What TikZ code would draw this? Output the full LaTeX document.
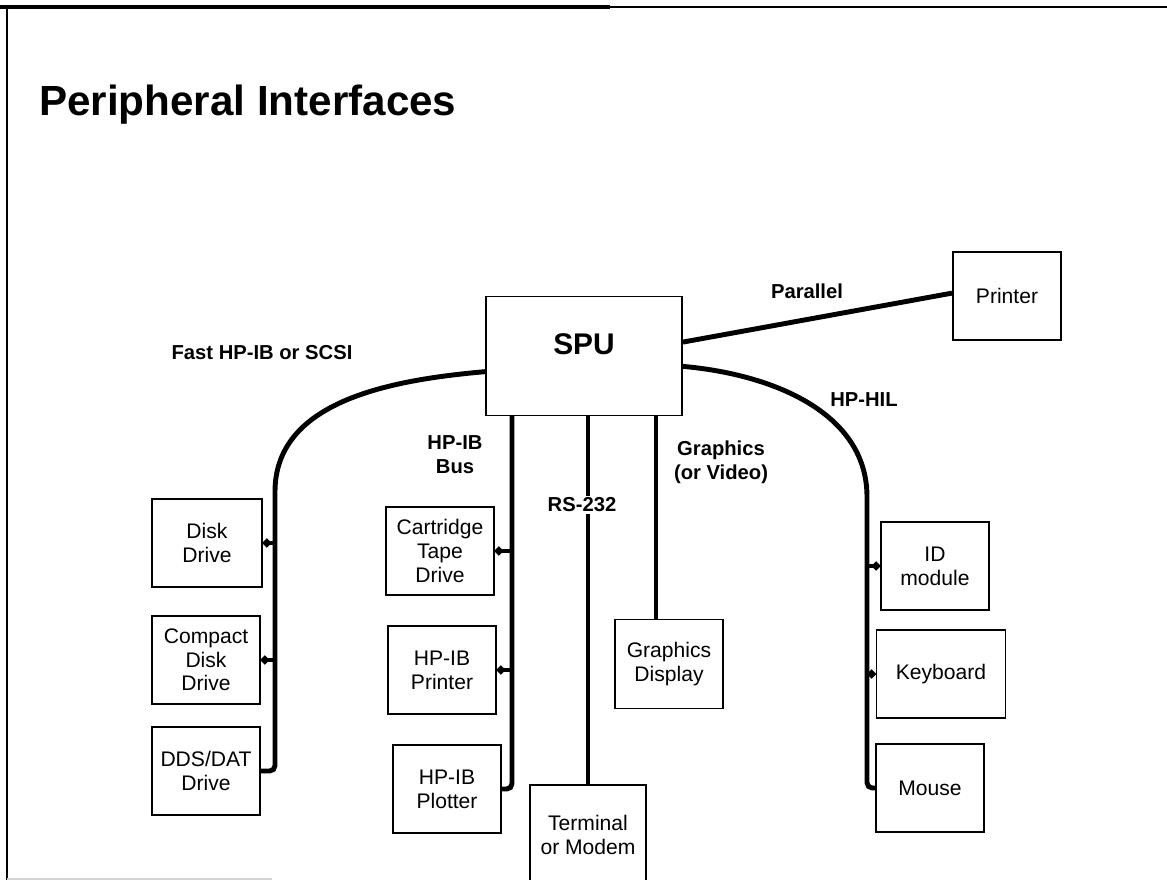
\documentclass[tikz,border=0pt]{standalone}
\usepackage{fontspec}
\setmainfont{Liberation Sans}
\usetikzlibrary{arrows.meta}

\begin{document}
\begin{tikzpicture}[x=0.2mm, y=-0.2mm,
  unit/.style={draw, line width=1.1pt, align=center, inner sep=0pt,
    minimum width=21.6mm, minimum height=17.6mm,
    font=\fontsize{12}{13.5}\selectfont},
  bus/.style={line width=2.8pt, rounded corners=3pt},
  stub/.style={line width=2.6pt, {Circle[length=4.5pt]}-},
  tag/.style={font=\bfseries\fontsize{11.5}{13.5}\selectfont, align=center, inner sep=1pt}]
  \useasboundingbox (0,0) rectangle (1167,880);
  % frame
  \draw[line width=2pt] (0,7) -- (610,7);
  \draw[line width=1.2pt] (610,7) -- (1167,7);
  \draw[line width=1.6pt] (7,7) -- (7,880);
  \draw[gray!35, line width=0.8pt] (7,879) -- (272,879);
  \node[anchor=base west, font=\bfseries\fontsize{24}{24}\selectfont] (title) at (33,115) {Peripheral Interfaces};

  % units
  \node[unit, minimum width=39.2mm, minimum height=23.8mm,
    label={[font=\bfseries\fontsize{17}{17}\selectfont, yshift=2.4mm]center:SPU}] (spu) at (584,356) {};
  \node[unit] (printer) at (1007,296) {Printer};
  \node[unit, minimum width=22mm] (disk) at (207,543) {Disk\\Drive};
  \node[unit] (cdisk) at (206,660) {Compact\\Disk\\Drive};
  \node[unit] (dds) at (206,771) {DDS/DAT\\Drive};
  \node[unit] (tape) at (440,551) {Cartridge\\Tape\\Drive};
  \node[unit] (ibprinter) at (442,670) {HP-IB\\Printer};
  \node[unit] (plotter) at (447,789) {HP-IB\\Plotter};
  \node[unit, minimum width=23.2mm, minimum height=20mm] (terminal) at (588,835) {Terminal\\or Modem};
  \node[unit, minimum height=17.8mm] (gdisp) at (669,664) {Graphics\\Display};
  \node[unit] (idmod) at (935,566) {ID\\module};
  \node[unit, minimum width=25.8mm] (keyboard) at (941,674) {Keyboard};
  \node[unit] (mouse) at (930,788) {Mouse};

  \coordinate (fastbus) at (275,497);
  \coordinate (hilbus) at (867,502);
  \coordinate (ibbus) at (512,416);

  % Parallel
  \draw[bus] (spu.8) -- (printer.177);
  % Fast HP-IB or SCSI
  \draw[bus] (spu.189) to[out=185, in=90] (fastbus) |- (dds.east);
  % HP-HIL
  \draw[bus] (spu.-6) to[out=-5, in=90] (hilbus) |- (mouse.west);
  % HP-IB bus
  \draw[bus] (ibbus) |- (plotter.east);
  % RS-232
  \draw[bus] (terminal.north) -- (terminal.north |- spu.south);
  % Graphics
  \draw[bus] ([xshift=-2.6mm]gdisp.north) -- ([xshift=-2.6mm]gdisp.north |- spu.south);

  % taps
  \draw[stub] (disk.east) -- (disk.east -| fastbus);
  \draw[stub] (cdisk.east) -- (cdisk.east -| fastbus);
  \draw[stub] (tape.east) -- (tape.east -| ibbus);
  \draw[stub] (ibprinter.east) -- (ibprinter.east -| ibbus);
  \draw[stub] (idmod.west) -- (idmod.west -| hilbus);
  \draw[stub] (keyboard.west) -- (keyboard.west -| hilbus);

  % labels
  \node[tag] (fastlabel) at (262,353) {Fast HP-IB or SCSI};
  \node[tag] (parlabel) at (807,291) {Parallel};
  \node[tag] (hillabel) at (864,400) {HP-HIL};
  \node[tag] (iblabel) at (455,455) {HP-IB\\Bus};
  \node[tag, fill=white] (rslabel) at (582,505) {RS-232};
  \node[tag] (gfxlabel) at (721,462) {Graphics\\(or Video)};
\end{tikzpicture}
\end{document}
